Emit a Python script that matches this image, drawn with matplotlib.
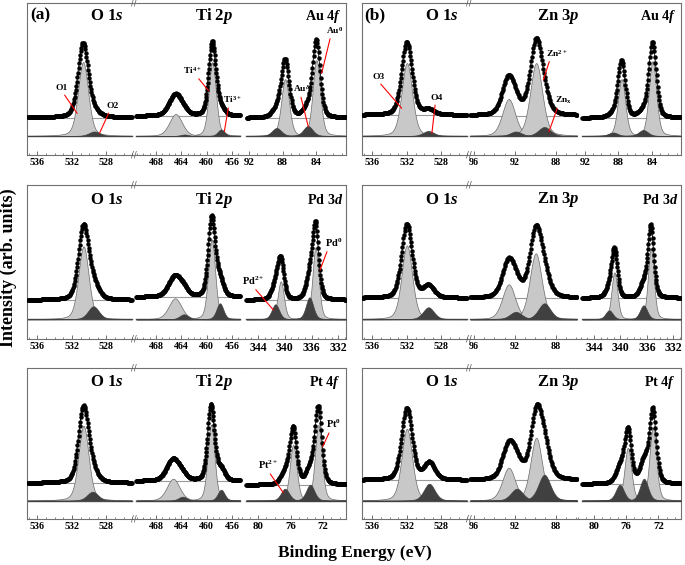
import numpy as np
import matplotlib
matplotlib.use("Agg")
import matplotlib.pyplot as plt
from matplotlib.ticker import MultipleLocator

plt.rcParams.update({
    "font.family": "Liberation Serif",
    "font.weight": "bold",
    "mathtext.fontset": "custom",
    "mathtext.rm": "Liberation Serif:bold",
    "mathtext.it": "Liberation Serif:italic:bold",
    "mathtext.bf": "Liberation Serif:bold",
})

# fitted components: (binding energy eV, height, fwhm eV)
# heights are in pixels of the frame, light = main peaks, dark = minor peaks
r1a_o1s_light = [(530.7, 74, 1.4)]
r1a_o1s_dark = [(529.4, 4.5, 1.5)]
r1a_ti_light = [(459.1, 74, 1.35), (464.9, 22, 2.4)]
r1a_ti_dark = [(457.7, 6.5, 1.3), (463.5, 1.5, 1.5)]
r1a_au_light = [(87.7, 57, 1.1), (84.0, 76, 1.05)]
r1a_au_dark = [(88.7, 8, 1.3), (85.0, 10, 1.3)]

r1b_o1s_light = [(532.0, 73, 1.45)]
r1b_o1s_dark = [(529.5, 5, 1.5)]
r1b_zn_light = [(92.6, 37, 1.5), (89.9, 73, 1.4)]
r1b_zn_dark = [(91.9, 4.5, 1.3), (89.1, 9, 1.4)]
r1b_au_light = [(87.6, 57, 1.05), (83.9, 75, 1.05)]
r1b_au_dark = [(88.6, 3.5, 1.3), (85.0, 6, 1.3)]

r2a_o1s_light = [(530.65, 73, 1.4)]
r2a_o1s_dark = [(529.5, 13, 1.5)]
r2a_ti_light = [(459.2, 80, 1.3), (465.0, 21, 2.4)]
r2a_ti_dark = [(457.9, 16, 1.3), (463.6, 5, 1.6)]
r2a_pd_light = [(340.6, 38, 1.1), (335.4, 72, 1.1)]
r2a_pd_dark = [(341.4, 15, 1.3), (336.3, 22, 1.3)]

r2b_o1s_light = [(532.0, 74, 1.45)]
r2b_o1s_dark = [(529.5, 12, 1.5)]
r2b_zn_light = [(92.6, 35, 1.5), (89.95, 66, 1.4)]
r2b_zn_dark = [(91.9, 7.5, 1.4), (89.1, 16, 1.4)]
r2b_pd_light = [(340.9, 47, 1.05), (335.4, 71, 1.05)]
r2b_pd_dark = [(341.7, 9, 1.3), (336.5, 14, 1.3)]

r3a_o1s_light = [(530.65, 75, 1.4)]
r3a_o1s_dark = [(529.6, 9, 1.5)]
r3a_ti_light = [(459.3, 76, 1.3), (465.3, 22, 2.4)]
r3a_ti_dark = [(457.7, 11, 1.3), (463.8, 4, 1.6)]
r3a_pt_light = [(75.7, 56, 1.0), (72.6, 76, 1.0)]
r3a_pt_dark = [(76.7, 12, 1.2), (73.6, 16, 1.2)]

r3b_o1s_light = [(532.0, 72, 1.45)]
r3b_o1s_dark = [(529.4, 17, 1.5)]
r3b_zn_light = [(92.6, 33, 1.5), (89.9, 63, 1.35)]
r3b_zn_dark = [(91.8, 12, 1.4), (89.1, 26, 1.4)]
r3b_pt_light = [(75.8, 53, 1.0), (72.7, 73, 1.0)]
r3b_pt_dark = [(76.8, 16, 1.2), (73.8, 22, 1.2)]

# level of the measured spectrum baseline in each segment (px above frame bottom)
r1a_base = [37.5, 39.0, 37.0]
r1b_base = [40.0, 39.5, 37.0]
r2a_base = [39.0, 42.0, 39.0]
r2b_base = [41.0, 41.0, 41.0]
r3a_base = [36.0, 38.0, 34.0]
r3b_base = [39.0, 39.0, 35.0]
comp_base = [19.0, 19.7, 18.3]

# axis windows (eV) and the energy span that was measured
o1s_lim, o1s_span = (537.2, 524.8), (537.2, 525.05)
ti_lim, ti_span = (471.5, 454.4), (471.2, 454.7)
zn_lim, zn_span = (96.5, 85.8), (96.4, 85.9)
au_lim, au_span = (92.8, 80.5), (92.3, 80.5)
pd_lim, pd_span = (346.4, 330.85), (345.8, 330.85)
pt_lim, pt_span = (82.0, 69.2), (81.5, 69.2)

titles = {
    "o1s": "O 1$\\mathit{s}$", "ti": "Ti 2$\\mathit{p}$", "zn": "Zn 3$\\mathit{p}$",
    "au": "Au 4$\\mathit{f}$", "pd": "Pd 3$\\mathit{d}$", "pt": "Pt 4$\\mathit{f}$",
}
windows = {"o1s": (o1s_lim, o1s_span), "ti": (ti_lim, ti_span), "zn": (zn_lim, zn_span),
           "au": (au_lim, au_span), "pd": (pd_lim, pd_span), "pt": (pt_lim, pt_span)}

panels = [
    (0, "a", ["o1s", "ti", "au"], [(r1a_o1s_light, r1a_o1s_dark), (r1a_ti_light, r1a_ti_dark), (r1a_au_light, r1a_au_dark)], r1a_base),
    (0, "b", ["o1s", "zn", "au"], [(r1b_o1s_light, r1b_o1s_dark), (r1b_zn_light, r1b_zn_dark), (r1b_au_light, r1b_au_dark)], r1b_base),
    (1, "a", ["o1s", "ti", "pd"], [(r2a_o1s_light, r2a_o1s_dark), (r2a_ti_light, r2a_ti_dark), (r2a_pd_light, r2a_pd_dark)], r2a_base),
    (1, "b", ["o1s", "zn", "pd"], [(r2b_o1s_light, r2b_o1s_dark), (r2b_zn_light, r2b_zn_dark), (r2b_pd_light, r2b_pd_dark)], r2b_base),
    (2, "a", ["o1s", "ti", "pt"], [(r3a_o1s_light, r3a_o1s_dark), (r3a_ti_light, r3a_ti_dark), (r3a_pt_light, r3a_pt_dark)], r3a_base),
    (2, "b", ["o1s", "zn", "pt"], [(r3b_o1s_light, r3b_o1s_dark), (r3b_zn_light, r3b_zn_dark), (r3b_pt_light, r3b_pt_dark)], r3b_base),
]

# (row, panel, segment, label, text eV, text y, tip eV, tip y, line start on label)
notes = [
    (0, "a", 0, "O1", 533.2, 66.7, 531.4, 41.7, 0.6),
    (0, "a", 0, "O2", 527.3, 48.7, 528.8, 21.7, 0.3),
    (0, "a", 1, "Ti$^{4+}$", 462.2, 84.5, 459.7, 64.3, 0.7),
    (0, "a", 1, "Ti$^{3+}$", 455.9, 55.3, 457.2, 23.3, 0.3),
    (0, "a", 2, "Au$^{\\delta}$", 85.7, 66.0, 84.96, 28.3, 0.4),
    (0, "a", 2, "Au$^{0}$", 81.9, 124.5, 83.38, 81.7, 0.3),
    (0, "b", 0, "O3", 535.3, 77.7, 532.6, 46.7, 0.5),
    (0, "b", 0, "O4", 528.55, 56.7, 529.1, 21.7, 0.4),
    (0, "b", 1, "Zn$^{2+}$", 87.9, 101.7, 89.2, 75.0, 0.2),
    (0, "b", 1, "Zn$_{\\mathrm{x}}$", 87.24, 55.0, 88.65, 23.3, 0.2),
    (1, "a", 2, "Pd$^{2+}$", 344.7, 58.3, 341.7, 29.0, 0.5),
    (1, "a", 2, "Pd$^{0}$", 332.75, 96.3, 334.74, 69.0, 0.2),
    (2, "a", 2, "Pt$^{2+}$", 78.76, 54.0, 76.92, 26.3, 0.5),
    (2, "a", 2, "Pt$^{0}$", 70.76, 95.0, 72.07, 72.3, 0.3),
]


def pv(x, c, h, w, eta=0.3):
    g = np.exp(-4 * np.log(2) * ((x - c) / w) ** 2)
    l = 1 / (1 + 4 * ((x - c) / w) ** 2)
    return h * (eta * l + (1 - eta) * g)


W, H = 685, 565
fig = plt.figure(figsize=(W / 100, H / 100), dpi=100)

row_top = [3, 185, 368]
row_bot = [155, 339, 519]
edges = {"a": [27, 134, 242, 346], "b": [362, 469, 578, 681]}
title_fx = {"o1s": 0.745, "ti": 0.74, "zn": 0.815, "au": 0.78, "pd": 0.80, "pt": 0.80}
tick_fs = {"o1s": 7.2, "ti": 7.2, "zn": 7.2, "au": 7.8, "pd": 8.5, "pt": 7.8}
frame_col = "#707070"

axes = {}
for row, pan, kinds, comps, bases in panels:
    top, bot = row_top[row], row_bot[row]
    h = bot - top
    ex = edges[pan]
    for i, kind in enumerate(kinds):
        ax = fig.add_axes([ex[i] / W, 1 - bot / H, (ex[i + 1] - ex[i]) / W, h / H])
        axes[(row, pan, i)] = ax
        lim, span = windows[kind]
        ax.set_xlim(*lim)
        ax.set_ylim(0, h)
        ax.patch.set_alpha(0)

        light, dark = comps[i]
        cb = comp_base[row]
        db = bases[i]
        x = np.arange(span[1], span[0], 0.065)
        ax.plot(span, [db, db], color="#9a9a9a", lw=0.8, zorder=1)
        ax.plot(span, [cb, cb], color="#4a4a4a", lw=1.0, zorder=1)
        total = np.full_like(x, db)
        for c, hh, w in light:
            y = pv(x, c, hh, w)
            ax.fill_between(x, cb, cb + y, facecolor="#c8c8c8", edgecolor="#6a6a6a", lw=0.5, zorder=2)
            total = total + y
        for c, hh, w in dark:
            y = pv(x, c, hh, w)
            ax.fill_between(x, cb, cb + y, facecolor="#404040", edgecolor="#404040", lw=0.5, zorder=3)
            total = total + y
        ax.plot(x, total, "-o", color="k", ms=2.2, lw=0.6, zorder=4)

        ty = 13.5 if row == 0 else 14.5
        ax.text(title_fx[kind], 1 - ty / h, titles[kind], transform=ax.transAxes,
                ha="center", va="center", fontsize=12 if i < 2 else 10.2)

        ax.xaxis.set_major_locator(MultipleLocator(4))
        ax.xaxis.set_minor_locator(MultipleLocator(1))
        ax.tick_params(axis="x", which="both", direction="in", color=frame_col,
                       labelsize=tick_fs[kind], pad=2, top=False)
        ax.tick_params(axis="x", which="major", length=3, width=0.7)
        ax.tick_params(axis="x", which="minor", length=1.8, width=0.6)
        ax.set_yticks([])
        for s in ax.spines.values():
            s.set_color(frame_col)
            s.set_linewidth(0.8)
        ax.spines["left"].set_visible(i == 0)
        ax.spines["right"].set_visible(i == 2)

        if i == 0:
            for yy in (0, 1):
                ax.text(1, yy, "//", transform=ax.transAxes, ha="center", va="center",
                        fontsize=6, color="#555555", family="DejaVu Sans", weight="normal")
            if row == 0:
                ax.text(13 / 107, 1 - 12 / h, "(" + pan + ")", transform=ax.transAxes,
                        ha="center", va="center", fontsize=12.5)

for row, pan, seg, lab, tx, ty, px, py, rx in notes:
    ax = axes[(row, pan, seg)]
    ax.annotate(lab, xy=(px, py), xytext=(tx, ty), ha="center", va="center",
                fontsize=7.5 if lab[:2] in ("Pd", "Pt") else 6.8, zorder=6,
                arrowprops=dict(arrowstyle="-", color="red", lw=0.8,
                                shrinkA=0, shrinkB=0, relpos=(rx, 0)))

fig.text(8 / W, 1 - 268 / H, "Intensity (arb. units)", rotation=90,
         ha="center", va="center", fontsize=13)
fig.text(355 / W, 1 - 553 / H, "Binding Energy (eV)", ha="center", va="center", fontsize=12.5)

fig.savefig("out.png", dpi=100)
